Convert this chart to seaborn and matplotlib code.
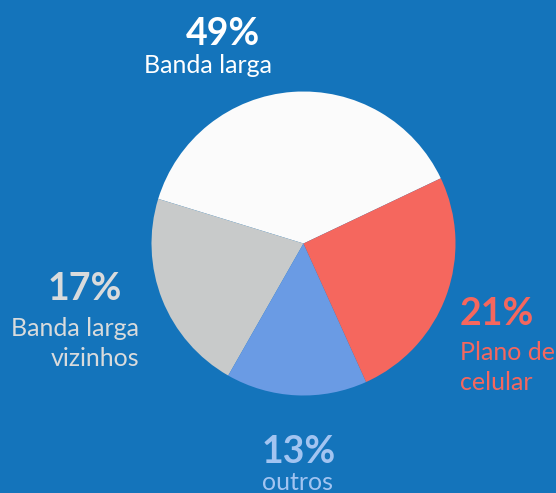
#!/usr/bin/env python

import matplotlib
matplotlib.use('Agg')
import matplotlib.pyplot as plt
import seaborn as sns

sns.set_style('white')
plt.rcParams['font.family'] = ['Lato', 'DejaVu Sans']

# share of the circle each slice takes in the picture (counter-clockwise from white)
categories = ['Banda larga', 'Banda larga vizinhos', 'outros', 'Plano de celular']
slice_share = [38.2, 21.5, 15.0, 25.3]
# labels printed on the chart
label_pct = ['49%', '17%', '13%', '21%']
label_txt = [['Banda larga'], ['Banda larga', 'vizinhos'], ['outros'], ['Plano de', 'celular']]

bg = '#1474BB'
slice_colors = sns.color_palette(['#FBFBFB', '#C8CACA', '#6A9BE4', '#F5675E'])
text_colors = ['#FFFFFF', '#D9DBDC', '#A2C4F1', '#F5675E']

W, H = 556, 493
fig = plt.figure(figsize=(W / 100, H / 100), dpi=100, facecolor=bg)

cx, cy, r = 303.5, 243.5, 152
ax = fig.add_axes([(cx - r) / W, (H - cy - r) / H, 2 * r / W, 2 * r / H])
ax.pie(slice_share, colors=slice_colors, startangle=25.4, counterclock=True,
       wedgeprops={'linewidth': 0})
ax.set_xlim(-1, 1)
ax.set_ylim(-1, 1)
ax.set_aspect('equal')
ax.axis('off')

# label layout in pixels: (x, baseline of pct, alignment, [baselines of text lines])
layout = [
    (223, 45, 'center', 208, [73]),
    (122, 300, 'right', 139, [336, 366]),
    (262, 463, 'left', 262, [490]),
    (460, 325, 'left', 460, [360, 390]),
]

for pct, lines, col, (px, py, ha, tx, tys) in zip(label_pct, label_txt, text_colors, layout):
    fig.text(px / W, 1 - py / H, pct, color=col, fontsize=27, fontweight='bold',
             ha='center' if ha == 'center' else ha, va='baseline')
    for line, ty in zip(lines, tys):
        fig.text(tx / W, 1 - ty / H, line, color=col, fontsize=18,
                 ha=ha, va='baseline')

fig.savefig('out.png', dpi=100, facecolor=bg)
